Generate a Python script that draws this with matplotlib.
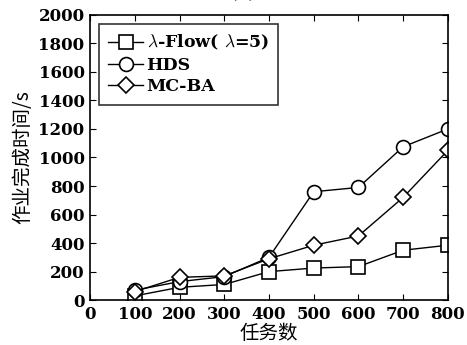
import numpy as np
import matplotlib.pyplot as plt

# data
tasks = [100, 200, 300, 400, 500, 600, 700, 800]
lam_flow = [30, 90, 110, 200, 225, 235, 350, 385]
hds = [70, 130, 165, 300, 760, 790, 1075, 1200]
mcba = [60, 160, 170, 290, 385, 450, 720, 1050]
y_ticks = [0, 200, 400, 600, 800, 1000, 1200, 1400, 1600, 1800, 2000]
x_ticks = [0, 100, 200, 300, 400, 500, 600, 700, 800]

plt.rcParams['font.family'] = ['DejaVu Serif', 'Noto Sans CJK SC']
plt.rcParams['mathtext.fontset'] = 'cm'

fig = plt.figure(figsize=(4.67, 3.45), dpi=100)
ax = fig.add_axes([0.193, 0.130, 0.766, 0.827])

ax.plot(tasks, lam_flow, color='black', lw=1, marker='s', markersize=10,
        markerfacecolor='white', markeredgewidth=1.2, label=r'$\lambda$-Flow( $\lambda$=5)')
ax.plot(tasks, hds, color='black', lw=1, marker='o', markersize=10,
        markerfacecolor='white', markeredgewidth=1.2, label='HDS')
ax.plot(tasks, mcba, color='black', lw=1, marker='D', markersize=8,
        markerfacecolor='white', markeredgewidth=1.2, label='MC-BA')

ax.set_xlim(0, 800)
ax.set_ylim(0, 2000)
ax.set_xticks(x_ticks)
ax.set_yticks(y_ticks)
ax.tick_params(direction='in', length=4, labelsize=12, top=True, right=True, pad=4)
for lbl in ax.get_xticklabels() + ax.get_yticklabels():
    lbl.set_fontweight('semibold')
for s in ax.spines.values():
    s.set_linewidth(1.2)

ax.set_xlabel('任务数', fontsize=14, family=['Noto Sans CJK SC'], labelpad=0)
ax.set_ylabel('作业完成时间/s', fontsize=14, family=['Noto Sans CJK SC', 'DejaVu Sans'], labelpad=4)

# panel label, partly cut off at the top as in the reference
fig.text(0.52, 1.02, '(a)', fontsize=14, ha='center', va='center')

leg = ax.legend(loc='upper left', frameon=True, fancybox=False, edgecolor='black',
                handlelength=2.0, handletextpad=0.2, borderpad=0.55,
                labelspacing=0.25, prop={'weight': 'bold', 'size': 12.5})
leg.get_frame().set_linewidth(1.2)

fig.savefig('out.png', dpi=100)
